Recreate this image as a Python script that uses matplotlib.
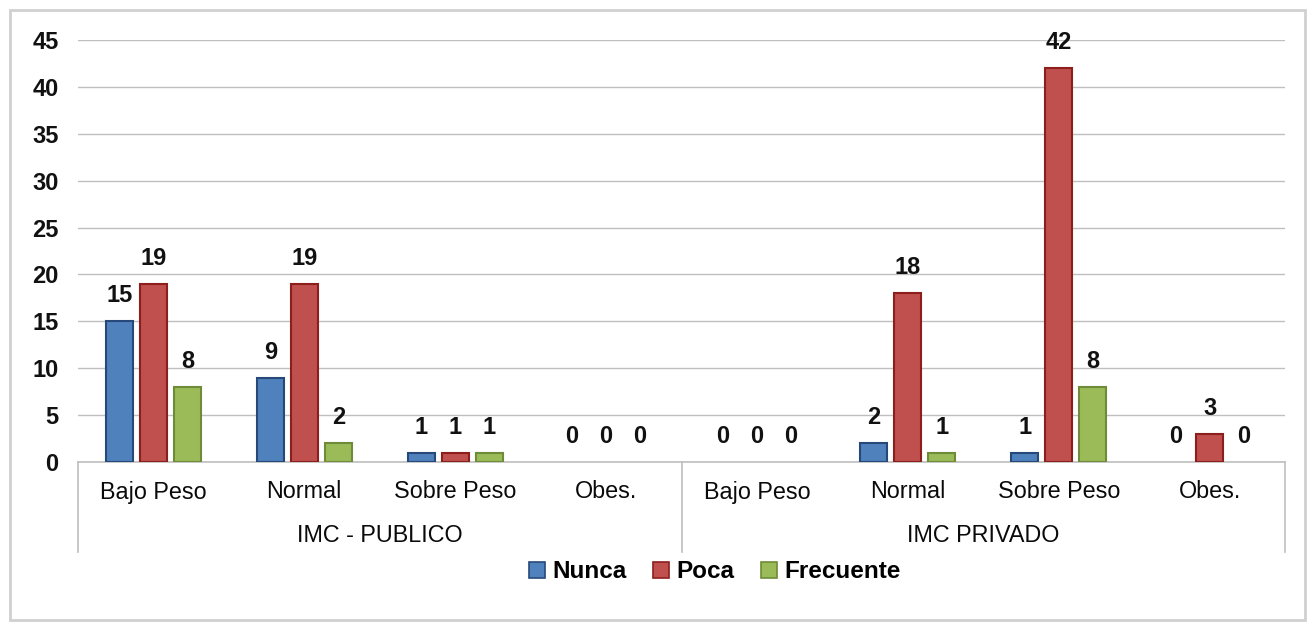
import numpy as np
import matplotlib.pyplot as plt
from matplotlib.patches import Patch, Rectangle
from matplotlib.transforms import blended_transform_factory

plt.rcParams['font.family'] = ['Liberation Sans', 'DejaVu Sans']

categorias = ['Bajo Peso', 'Normal', 'Sobre Peso', 'Obes.',
              'Bajo Peso', 'Normal', 'Sobre Peso', 'Obes.']
grupos = ['IMC - PUBLICO', 'IMC PRIVADO']
series = ['Nunca', 'Poca', 'Frecuente']
nunca = [15, 9, 1, 0, 0, 2, 1, 0]
poca = [19, 19, 1, 0, 0, 18, 42, 3]
frecuente = [8, 2, 1, 0, 0, 1, 8, 0]

colores = ['#4F81BD', '#C0504D', '#9BBB59']
bordes = ['#27497A', '#8C1F1C', '#6E8B37']

fig = plt.figure(figsize=(13.09, 6.22), dpi=100)
ax = fig.add_axes([78/1309, 1-462/622, (1285-78)/1309, (462-40)/622])

x = np.arange(len(categorias))
w = 0.18
paso = 0.225
for i, vals in enumerate([nunca, poca, frecuente]):
    barras = ax.bar(x + (i-1)*paso, vals, w, color=colores[i],
                    edgecolor=bordes[i], linewidth=1.5, zorder=3)
    for b, v in zip(barras, vals):
        if v == 0:
            b.set_linewidth(0)
        ax.annotate(str(v), (b.get_x() + b.get_width()/2, v),
                    xytext=(0, 10), textcoords='offset points',
                    ha='center', va='bottom', fontsize=17,
                    fontweight='bold', color='#111111')

ax.set_xlim(-0.5, 7.5)
ax.set_ylim(0, 45)
ax.set_yticks(np.arange(0, 46, 5))
ax.yaxis.grid(True, color='#BFBFBF', linewidth=1, zorder=0)
ax.set_axisbelow(True)
ax.tick_params(axis='y', length=0, pad=14, labelsize=17, labelcolor='#111111')
for t in ax.get_yticklabels():
    t.set_fontweight('bold')
ax.set_xticks([])
for s in ['left', 'right', 'top']:
    ax.spines[s].set_visible(False)
ax.spines['bottom'].set_color('#BFBFBF')
ax.spines['bottom'].set_linewidth(1.2)

tr = blended_transform_factory(ax.transData, ax.transAxes)
for xs in [-0.5, 3.5, 7.5]:
    ax.plot([xs, xs], [0, -90/422], color='#BFBFBF', linewidth=1.2,
            transform=tr, clip_on=False)
for xi, c in zip(x, categorias):
    ax.text(xi, -30/422, c, transform=tr, ha='center', va='center',
            fontsize=16.8, color='#0a0a0a')
for gi, g in enumerate(grupos):
    ax.text(1.5 + 4*gi, -74/422, g, transform=tr, ha='center', va='center',
            fontsize=16.8, color='#0a0a0a')

handles = [Patch(facecolor=colores[i], edgecolor=bordes[i], linewidth=1.2)
           for i in range(3)]
fig.legend(handles, series, loc='center', bbox_to_anchor=(715/1309, 1-572/622),
           ncol=3, frameon=False, handlelength=0.65, handleheight=0.65,
           handletextpad=0.3, columnspacing=1.1,
           prop={'weight': 'bold', 'size': 17.5})

fig.patches.append(Rectangle((10/1309, 2/622), 1295/1309, 610/622,
                             transform=fig.transFigure, fill=False,
                             edgecolor='#D0D0D0', linewidth=2))

fig.savefig('out.png', dpi=100)
